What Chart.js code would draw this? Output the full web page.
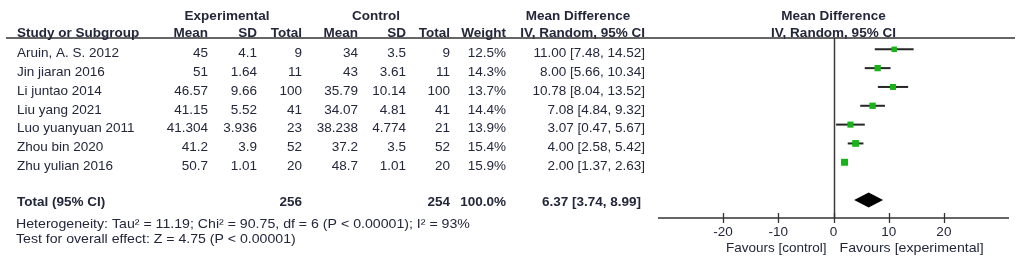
<!DOCTYPE html>
<html>
<head>
<meta charset="utf-8">
<script src="https://cdn.jsdelivr.net/npm/chart.js@4.4.0/dist/chart.umd.min.js"></script>
<style>
html,body{margin:0;padding:0;background:#fff;}
#wrap{width:1021px;height:264px;position:relative;}
</style>
</head>
<body>
<div id="wrap"><canvas id="c" width="1021" height="264"></canvas></div>
<script>
const studies = ['Aruin, A. S. 2012','Jin jiaran 2016','Li juntao 2014','Liu yang 2021','Luo yuanyuan 2011','Zhou bin 2020','Zhu yulian 2016'];
const expMean = [45, 51, 46.57, 41.15, 41.304, 41.2, 50.7];
const expSD = [4.1, 1.64, 9.66, 5.52, 3.936, 3.9, 1.01];
const expTotal = [9, 11, 100, 41, 23, 52, 20];
const ctrlMean = [34, 43, 35.79, 34.07, 38.238, 37.2, 48.7];
const ctrlSD = [3.5, 3.61, 10.14, 4.81, 4.774, 3.5, 1.01];
const ctrlTotal = [9, 11, 100, 41, 21, 52, 20];
const weights = [12.5, 14.3, 13.7, 14.4, 13.9, 15.4, 15.9];
const md = [11.00, 8.00, 10.78, 7.08, 3.07, 4.00, 2.00];
const ciLow = [7.48, 5.66, 8.04, 4.84, 0.47, 2.58, 1.37];
const ciHigh = [14.52, 10.34, 13.52, 9.32, 5.67, 5.42, 2.63];
const totalExp = 256, totalCtrl = 254, totalWeight = 100.0;
const totalMD = 6.37, totalLow = 3.74, totalHigh = 8.99;
const xTicks = [-20, -10, 0, 10, 20];
const heterogeneity = 'Heterogeneity: Tau\u00b2 = 11.19; Chi\u00b2 = 90.75, df = 6 (P < 0.00001); I\u00b2 = 93%';
const overallEffect = 'Test for overall effect: Z = 4.75 (P < 0.00001)';
const favourLeft = 'Favours [control]';
const favourRight = 'Favours [experimental]';

const TOTAL_ROW = 8;
const FONT = '"Liberation Sans", Arial, sans-serif';
const TXT = '#23273a';

const ciDatasets = studies.map((s, i) => ({
  type: 'scatter',
  data: [{x: ciLow[i], y: i}, {x: ciHigh[i], y: i}],
  showLine: true,
  borderColor: '#262626',
  borderWidth: 2,
  pointRadius: 0,
  order: 2
}));
const squares = {
  type: 'scatter',
  data: md.map((v, i) => ({x: v, y: i})),
  pointStyle: 'rect',
  pointRadius: weights.map(w => w * 0.31),
  backgroundColor: '#16b416',
  borderWidth: 0,
  order: 1
};

function fmt(v, d) { return d === undefined ? String(v) : v.toFixed(d); }

const forestPlugin = {
  id: 'forest',
  beforeDraw(chart) {
    const ctx = chart.ctx;
    ctx.save();
    ctx.fillStyle = '#fff';
    ctx.fillRect(0, 0, chart.width, chart.height);
    ctx.restore();
  },
  beforeDatasetsDraw(chart) {
    const ctx = chart.ctx, xs = chart.scales.x, a = chart.chartArea;
    const x0 = Math.round(xs.getPixelForValue(0)) + 0.5;
    ctx.save();
    ctx.strokeStyle = '#3a3a3a';
    ctx.lineWidth = 1.5;
    ctx.beginPath(); ctx.moveTo(x0, a.top); ctx.lineTo(x0, a.bottom); ctx.stroke();
    ctx.restore();
  },
  afterDatasetsDraw(chart) {
    const ctx = chart.ctx, xs = chart.scales.x, ys = chart.scales.y, a = chart.chartArea;
    ctx.save();
    ctx.strokeStyle = '#333';
    ctx.lineWidth = 1.5;
    ctx.beginPath(); ctx.moveTo(6, a.top); ctx.lineTo(1015, a.top); ctx.stroke();
    ctx.beginPath(); ctx.moveTo(a.left, a.bottom); ctx.lineTo(a.right, a.bottom); ctx.stroke();
    ctx.lineWidth = 1.3;
    xTicks.forEach(t => {
      const px = Math.round(xs.getPixelForValue(t)) + 0.5;
      ctx.beginPath(); ctx.moveTo(px, a.bottom - 5); ctx.lineTo(px, a.bottom + 5); ctx.stroke();
    });
    const yd = ys.getPixelForValue(TOTAL_ROW);
    ctx.fillStyle = '#000';
    ctx.beginPath();
    ctx.moveTo(xs.getPixelForValue(totalLow), yd);
    ctx.lineTo(xs.getPixelForValue(totalMD), yd - 7.5);
    ctx.lineTo(xs.getPixelForValue(totalHigh), yd);
    ctx.lineTo(xs.getPixelForValue(totalMD), yd + 7.5);
    ctx.closePath(); ctx.fill();

    ctx.fillStyle = TXT;
    ctx.textBaseline = 'alphabetic';
    const normal = '13.5px ' + FONT, bold = 'bold 13.5px ' + FONT;
    function t(s, x, y, align, f) { ctx.font = f || normal; ctx.textAlign = align; ctx.fillText(s, x, y); }
    function tw(s, x, y, sx) {
      ctx.save(); ctx.translate(x, y); ctx.scale(sx, 1);
      ctx.font = normal; ctx.textAlign = 'left'; ctx.fillText(s, 0, 0); ctx.restore();
    }
    t('Experimental', 227, 19.5, 'center', bold);
    t('Control', 376, 19.5, 'center', bold);
    t('Mean Difference', 578, 19.5, 'center', bold);
    t('Mean Difference', xs.getPixelForValue(0), 19.5, 'center', bold);
    t('Study or Subgroup', 17, 36.5, 'left', bold);
    t('Mean', 208, 36.5, 'right', bold);
    t('SD', 257, 36.5, 'right', bold);
    t('Total', 302, 36.5, 'right', bold);
    t('Mean', 358, 36.5, 'right', bold);
    t('SD', 406, 36.5, 'right', bold);
    t('Total', 450, 36.5, 'right', bold);
    t('Weight', 506, 36.5, 'right', bold);
    t('IV, Random, 95% CI', 645, 36.5, 'right', bold);
    t('IV, Random, 95% CI', xs.getPixelForValue(0), 36.5, 'center', bold);
    studies.forEach((s, i) => {
      const y = ys.getPixelForValue(i) + 7.8;
      t(s, 17, y, 'left');
      t(fmt(expMean[i]), 208, y, 'right');
      t(fmt(expSD[i]), 257, y, 'right');
      t(fmt(expTotal[i]), 302, y, 'right');
      t(fmt(ctrlMean[i]), 358, y, 'right');
      t(fmt(ctrlSD[i]), 406, y, 'right');
      t(fmt(ctrlTotal[i]), 450, y, 'right');
      t(fmt(weights[i], 1) + '%', 506, y, 'right');
      t(fmt(md[i], 2) + ' [' + fmt(ciLow[i], 2) + ', ' + fmt(ciHigh[i], 2) + ']', 645, y, 'right');
    });
    const yt = yd + 6.5;
    t('Total (95% CI)', 17, yt, 'left', bold);
    t(fmt(totalExp), 302, yt, 'right', bold);
    t(fmt(totalCtrl), 450, yt, 'right', bold);
    t(fmt(totalWeight, 1) + '%', 506, yt, 'right', bold);
    t(fmt(totalMD, 2) + ' [' + fmt(totalLow, 2) + ', ' + fmt(totalHigh, 2) + ']', 641, yt, 'right', bold);
    tw(heterogeneity, 16, 227.5, 1.048);
    tw(overallEffect, 16, 243, 1.045);
    xTicks.forEach(v => t(String(v), xs.getPixelForValue(v), 236, 'center'));
    const x0 = xs.getPixelForValue(0);
    t(favourLeft, x0 - 7, 252, 'right');
    tw(favourRight, x0 + 6, 252, 1.05);
    ctx.restore();
  }
};

new Chart(document.getElementById('c'), {
  type: 'scatter',
  data: { datasets: [...ciDatasets, squares] },
  options: {
    responsive: false,
    animation: false,
    devicePixelRatio: 1,
    layout: { padding: { left: 658, right: 12, top: 38, bottom: 46 } },
    scales: {
      x: { type: 'linear', min: -31.8, max: 31.8, display: false },
      y: { type: 'linear', min: -0.6, max: 8.96, reverse: true, display: false }
    },
    plugins: { legend: { display: false }, tooltip: { enabled: false } }
  },
  plugins: [forestPlugin]
});
</script>
</body>
</html>
